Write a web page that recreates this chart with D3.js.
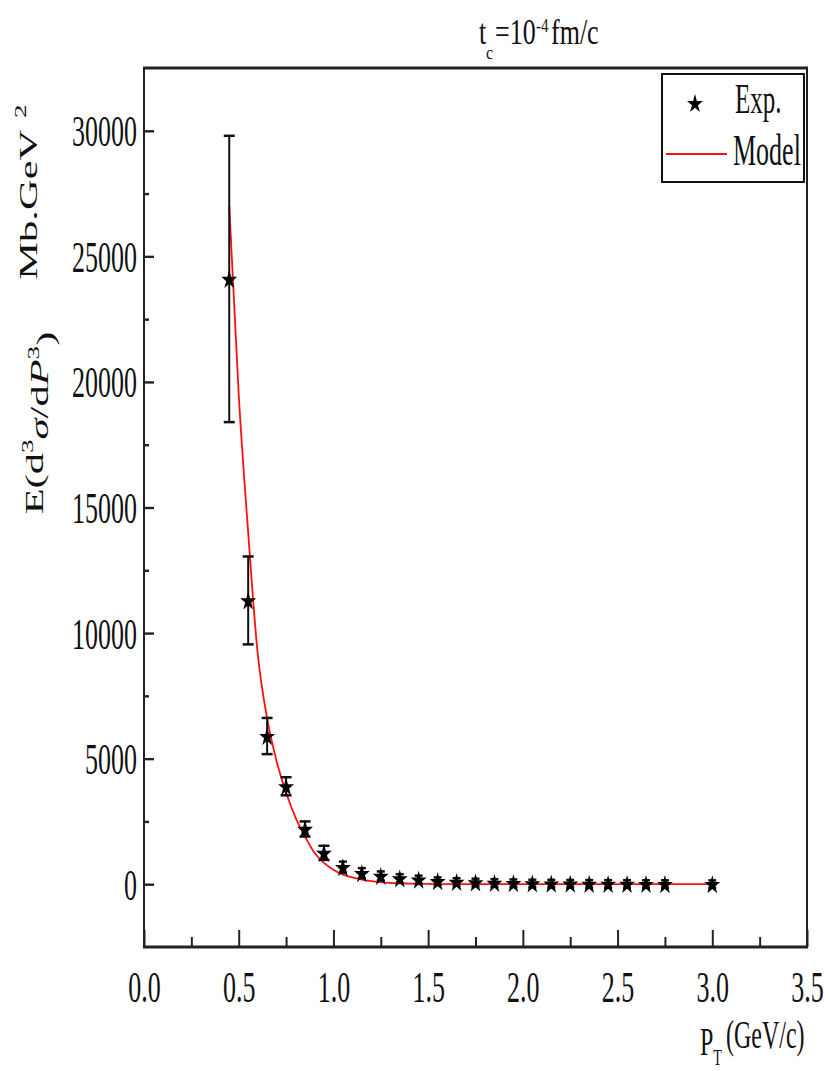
<!DOCTYPE html>
<html>
<head>
<meta charset="utf-8">
<script src="https://cdn.jsdelivr.net/npm/d3@7"></script>
<style>
  html, body { margin: 0; padding: 0; background: #fff; }
  svg { display: block; }
  text { font-family: "Liberation Serif", "Times New Roman", serif; fill: #111; }
</style>
</head>
<body>
<div id="chart"></div>
<script>
// measured data (pT in GeV/c, invariant cross section)
const expPt = [0.45, 0.55, 0.65, 0.75, 0.85, 0.95, 1.05, 1.15, 1.25, 1.35, 1.45, 1.55, 1.65,
               1.75, 1.85, 1.95, 2.05, 2.15, 2.25, 2.35, 2.45, 2.55, 2.65, 2.75, 3.0];
const expVal = [24100, 11300, 5900, 3900, 2200, 1250, 680, 440, 330, 230, 180, 120, 90,
                70, 50, 40, 30, 25, 20, 15, 12, 10, 8, 6, 3];
const expErr = [5700, 1750, 720, 360, 300, 280, 220, 200, 180, 170, 160, 150, 150,
                150, 150, 150, 150, 150, 150, 150, 150, 150, 150, 150, 150];

// model curve
const modelPt = [0.45, 0.50, 0.55, 0.60, 0.65, 0.70, 0.75, 0.80, 0.85, 0.90, 0.95, 1.00, 1.05,
                 1.10, 1.15, 1.20, 1.25, 1.30, 1.40, 1.50, 1.60, 1.80, 2.00, 2.50, 3.00];
const modelVal = [27000, 19500, 14000, 9200, 6600, 4900, 3650, 2650, 1900, 1250, 850, 580, 380,
                  270, 180, 120, 80, 50, 25, 10, 5, 2, 1, 0, 0];

const yTicks = [0, 5000, 10000, 15000, 20000, 25000, 30000];
const yMinor = [2500, 7500, 12500, 17500, 22500, 27500];
const xTicks = [0, 0.5, 1.0, 1.5, 2.0, 2.5, 3.0, 3.5];
const xMinor = [0.25, 0.75, 1.25, 1.75, 2.25, 2.75, 3.25];

const W = 826, H = 1071;
const S = 1.7; // vertical stretch of the lettering in the figure

const svg = d3.select("#chart").append("svg")
    .attr("width", W)
    .attr("height", H);

const x = d3.scaleLinear().domain([0, 3.5]).range([144, 807]);
const y = d3.scaleLinear().domain([-2500, 32500]).range([947, 68]);

// y axis (ticks point inward)
const yAxis = svg.append("g")
    .attr("transform", `translate(${x(0)},0)`)
    .call(d3.axisLeft(y).tickValues(yTicks).tickSize(-10).tickSizeOuter(0).tickPadding(7)
        .tickFormat(d3.format("d")));
yAxis.select(".domain").remove();
yAxis.selectAll(".tick line").attr("stroke", "#222").attr("stroke-width", 2.4);
yAxis.selectAll(".tick text")
    .attr("font-size", 26)
    .attr("dy", "0.34em")
    .attr("transform", `scale(1,${S})`);

const yMin = svg.append("g")
    .attr("transform", `translate(${x(0)},0)`)
    .call(d3.axisLeft(y).tickValues(yMinor).tickSize(-5).tickSizeOuter(0).tickFormat(""));
yMin.select(".domain").remove();
yMin.selectAll(".tick line").attr("stroke", "#222").attr("stroke-width", 2.4);

// x axis (ticks point inward)
const xAxis = svg.append("g")
    .attr("transform", `translate(0,${y(-2500)})`)
    .call(d3.axisBottom(x).tickValues(xTicks).tickSize(-17).tickSizeOuter(0)
        .tickFormat(d3.format(".1f")));
xAxis.select(".domain").remove();
xAxis.selectAll(".tick line").attr("stroke", "#222").attr("stroke-width", 2);
xAxis.selectAll(".tick text")
    .attr("font-size", 26)
    .attr("y", null)
    .attr("dy", "0.34em")
    .attr("transform", `translate(0,40) scale(1,${S})`);

const xMin = svg.append("g")
    .attr("transform", `translate(0,${y(-2500)})`)
    .call(d3.axisBottom(x).tickValues(xMinor).tickSize(-10).tickSizeOuter(0).tickFormat(""));
xMin.select(".domain").remove();
xMin.selectAll(".tick line").attr("stroke", "#222").attr("stroke-width", 2);

// frame
const frame = svg.append("g").attr("stroke", "#222").attr("fill", "none");
frame.append("line").attr("x1", x(0)).attr("x2", x(0)).attr("y1", y(32500)).attr("y2", y(-2500)).attr("stroke-width", 2);
frame.append("line").attr("x1", x(3.5)).attr("x2", x(3.5)).attr("y1", y(32500)).attr("y2", y(-2500)).attr("stroke-width", 2);
frame.append("line").attr("x1", x(0) - 1).attr("x2", x(3.5) + 1).attr("y1", y(32500)).attr("y2", y(32500)).attr("stroke-width", 3);
frame.append("line").attr("x1", x(0) - 1).attr("x2", x(3.5) + 1).attr("y1", y(-2500)).attr("y2", y(-2500)).attr("stroke-width", 3);

// model curve
const line = d3.line()
    .x((d, i) => x(modelPt[i]))
    .y(d => y(d))
    .curve(d3.curveMonotoneX);
svg.append("path")
    .datum(modelVal)
    .attr("fill", "none")
    .attr("stroke", "#ff1010")
    .attr("stroke-width", 1.8)
    .attr("d", line);

// error bars
const errG = svg.append("g").attr("stroke", "#111").attr("stroke-width", 2);
expPt.forEach((p, i) => {
    const cx = x(p);
    const top = y(expVal[i] + expErr[i]);
    const bot = y(expVal[i] - expErr[i]);
    const cap = i < 6 ? 5.5 : 4;
    errG.append("line").attr("x1", cx).attr("x2", cx).attr("y1", top).attr("y2", bot);
    errG.append("line").attr("x1", cx - cap).attr("x2", cx + cap).attr("y1", top).attr("y2", top).attr("stroke-width", 2.5);
    errG.append("line").attr("x1", cx - cap).attr("x2", cx + cap).attr("y1", bot).attr("y2", bot).attr("stroke-width", 2.5);
});

// star markers
const star = d3.symbol().type(d3.symbolStar).size(78);
svg.append("g").selectAll("path")
    .data(expVal)
    .enter().append("path")
    .attr("d", star)
    .attr("fill", "#000")
    .attr("transform", (d, i) => `translate(${x(expPt[i])},${y(d) + 1}) scale(1,1.2)`);

// legend
const leg = svg.append("g");
leg.append("rect")
    .attr("x", 662).attr("y", 74).attr("width", 142).attr("height", 108)
    .attr("fill", "#fff").attr("stroke", "#111").attr("stroke-width", 2);
leg.append("path")
    .attr("d", star)
    .attr("fill", "#000")
    .attr("transform", `translate(695,104) scale(1,1.2)`);
leg.append("text")
    .attr("transform", `translate(735,113) scale(1,${S})`)
    .attr("font-size", 25)
    .text("Exp.");
leg.append("line")
    .attr("x1", 666).attr("x2", 727).attr("y1", 154).attr("y2", 154)
    .attr("stroke", "#ff1010").attr("stroke-width", 2);
leg.append("text")
    .attr("transform", `translate(733,165) scale(1,${S})`)
    .attr("font-size", 26)
    .text("Model");

// title
const title = svg.append("g").attr("font-size", 26);
title.append("text").attr("transform", "translate(479,44) scale(1,1.4)").text("t");
title.append("text").attr("transform", "translate(486,59) scale(1,1.2)").attr("font-size", 16).text("c");
title.append("text").attr("transform", "translate(495,44) scale(1,1.4)").text("=10");
title.append("text").attr("transform", "translate(536,32) scale(1,1.2)").attr("font-size", 15).text("-4");
title.append("text").attr("transform", "translate(551,44) scale(1,1.4)").text("fm/c");

// x axis title
const xt = svg.append("text")
    .attr("transform", `translate(700,1055) scale(1,${S})`)
    .attr("font-size", 24);
xt.append("tspan").text("P");
xt.append("tspan").attr("font-size", 14).attr("dy", "0.4em").text("T");
xt.append("tspan").attr("dy", "-0.4em").attr("dx", "4").text("(GeV/c)");

// y axis title
const yt = svg.append("text")
    .attr("transform", `translate(43,423) rotate(-90) scale(${S},1)`)
    .attr("text-anchor", "middle")
    .attr("font-size", 25);
yt.append("tspan").text("E(d");
yt.append("tspan").attr("font-size", 16).attr("dy", "-0.6em").text("3");
yt.append("tspan").attr("font-style", "italic").attr("dy", "0.6em").text("σ");
yt.append("tspan").text("/d");
yt.append("tspan").attr("font-style", "italic").text("P");
yt.append("tspan").attr("font-size", 16).attr("dy", "-0.6em").text("3");
yt.append("tspan").attr("dy", "0.6em").text(")");

const yu = svg.append("text")
    .attr("transform", `translate(37,192) rotate(-90) scale(${S},1)`)
    .attr("text-anchor", "middle")
    .attr("font-size", 25);
yu.append("tspan").text("Mb.GeV");
yu.append("tspan").attr("font-size", 16).attr("dy", "-0.7em").attr("dx", "7").text("2");
</script>
</body>
</html>
